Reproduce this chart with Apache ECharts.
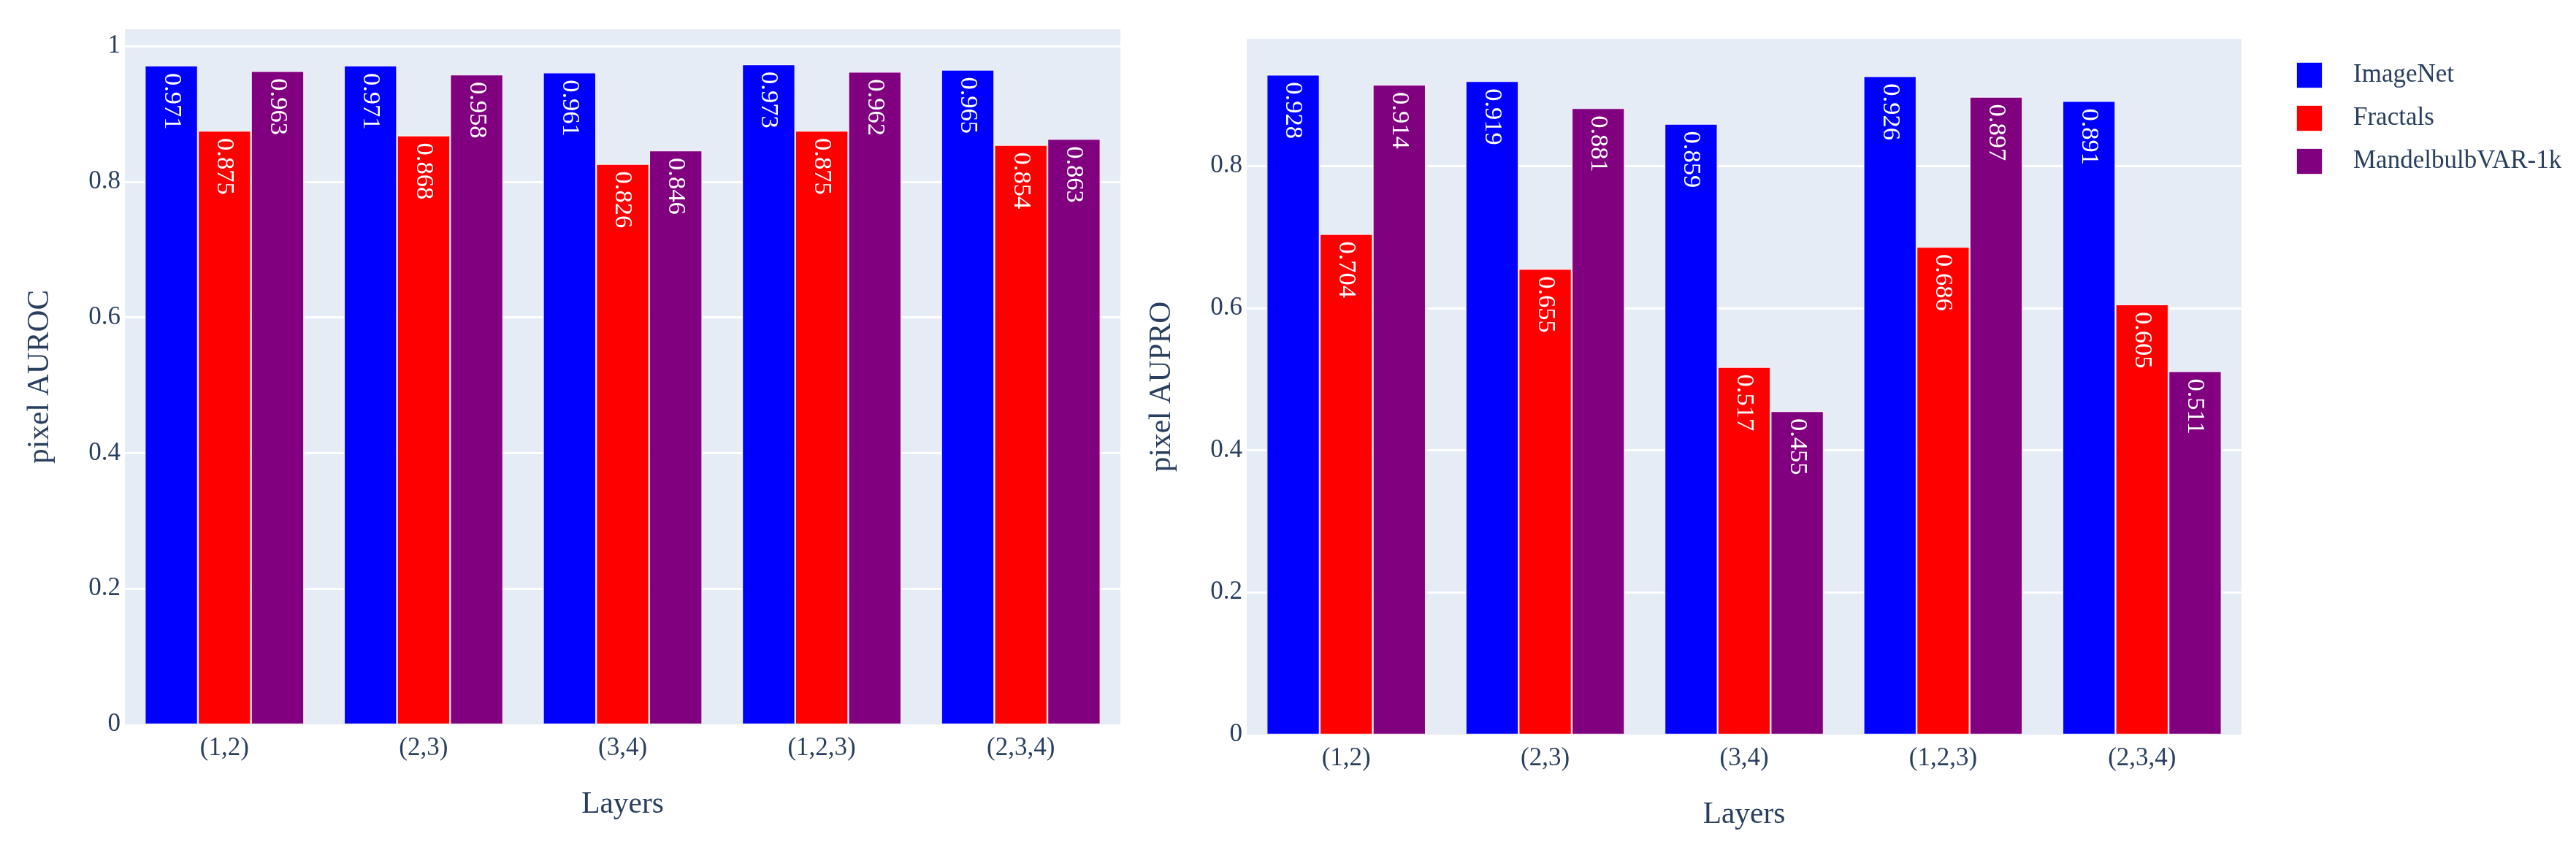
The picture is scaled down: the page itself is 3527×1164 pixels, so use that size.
<!DOCTYPE html>
<html>
<head>
<meta charset="utf-8">
<script src="https://cdn.jsdelivr.net/npm/echarts@6/dist/echarts.min.js"></script>
<style>
html,body{margin:0;padding:0;background:#fff;}
#chart{width:3527px;height:1164px;}
</style>
</head>
<body>
<div id="chart"></div>
<script>
const categories = ['(1,2)', '(2,3)', '(3,4)', '(1,2,3)', '(2,3,4)'];
const seriesNames = ['ImageNet', 'Fractals', 'MandelbulbVAR-1k'];
const aurocImageNet = [0.971, 0.971, 0.961, 0.973, 0.965];
const aurocFractals = [0.875, 0.868, 0.826, 0.875, 0.854];
const aurocMandelbulb = [0.963, 0.958, 0.846, 0.962, 0.863];
const auproImageNet = [0.928, 0.919, 0.859, 0.926, 0.891];
const auproFractals = [0.704, 0.655, 0.517, 0.686, 0.605];
const auproMandelbulb = [0.914, 0.881, 0.455, 0.897, 0.511];
const colors = ['#0000FF', '#FF0000', '#800080'];

const FONT = "'Liberation Serif', 'Times New Roman', serif";
const TXT = '#2a3f5f';

function mkSeries(name, data, idx, color) {
  return {
    name: name, type: 'bar', data: data,
    xAxisIndex: idx, yAxisIndex: idx,
    barGap: '0%', barCategoryGap: '20%',
    itemStyle: { color: color, borderColor: 'rgba(255,255,255,0.85)', borderWidth: 1.2 },
    label: {
      show: true, position: 'insideTop', rotate: -90, distance: 10,
      align: 'left', verticalAlign: 'middle',
      fontFamily: FONT, fontSize: 34.5, color: '#fff',
      formatter: p => p.value.toFixed(3)
    }
  };
}

function xAx(gi) {
  return {
    type: 'category', gridIndex: gi, data: categories,
    axisLine: { show: false }, axisTick: { show: false },
    axisLabel: { fontFamily: FONT, fontSize: 35, color: TXT, margin: 15 },
    name: 'Layers', nameLocation: 'middle', nameGap: 90,
    nameTextStyle: { fontFamily: FONT, fontSize: 41.4, color: TXT }
  };
}
function yAx(gi, max, title) {
  return {
    type: 'value', gridIndex: gi, min: 0, max: max, interval: 0.2,
    axisLine: { show: false }, axisTick: { show: false },
    axisLabel: { fontFamily: FONT, fontSize: 35, color: TXT, margin: 6, showMaxLabel: false },
    splitLine: { show: true, lineStyle: { color: '#fff', width: 3 }, showMaxLine: false, showMinLine: false },
    name: title, nameLocation: 'middle', nameGap: 95, nameRotate: 90,
    nameTextStyle: { fontFamily: FONT, fontSize: 41.4, color: TXT }
  };
}

const chart = echarts.init(document.getElementById('chart'), null, { renderer: 'canvas' });
chart.setOption({
  animation: false,
  backgroundColor: '#fff',
  grid: [
    { left: 171, top: 40, width: 1363, height: 952, show: true, backgroundColor: '#E5ECF6', borderWidth: 0 },
    { left: 1707, top: 53, width: 1362, height: 953, show: true, backgroundColor: '#E5ECF6', borderWidth: 0 }
  ],
  legend: {
    orient: 'vertical', left: 3138, top: 79,
    itemWidth: 36, itemHeight: 36, itemGap: 21,
    icon: 'rect',
    data: seriesNames,
    textStyle: { fontFamily: FONT, fontSize: 35, color: TXT, padding: [0, 0, 0, 37] }
  },
  xAxis: [xAx(0), xAx(1)],
  yAxis: [yAx(0, 1.0247, 'pixel AUROC'), yAx(1, 0.9787, 'pixel AUPRO')],
  series: [
    mkSeries(seriesNames[0], aurocImageNet, 0, colors[0]),
    mkSeries(seriesNames[1], aurocFractals, 0, colors[1]),
    mkSeries(seriesNames[2], aurocMandelbulb, 0, colors[2]),
    mkSeries(seriesNames[0], auproImageNet, 1, colors[0]),
    mkSeries(seriesNames[1], auproFractals, 1, colors[1]),
    mkSeries(seriesNames[2], auproMandelbulb, 1, colors[2])
  ]
});
</script>
</body>
</html>
